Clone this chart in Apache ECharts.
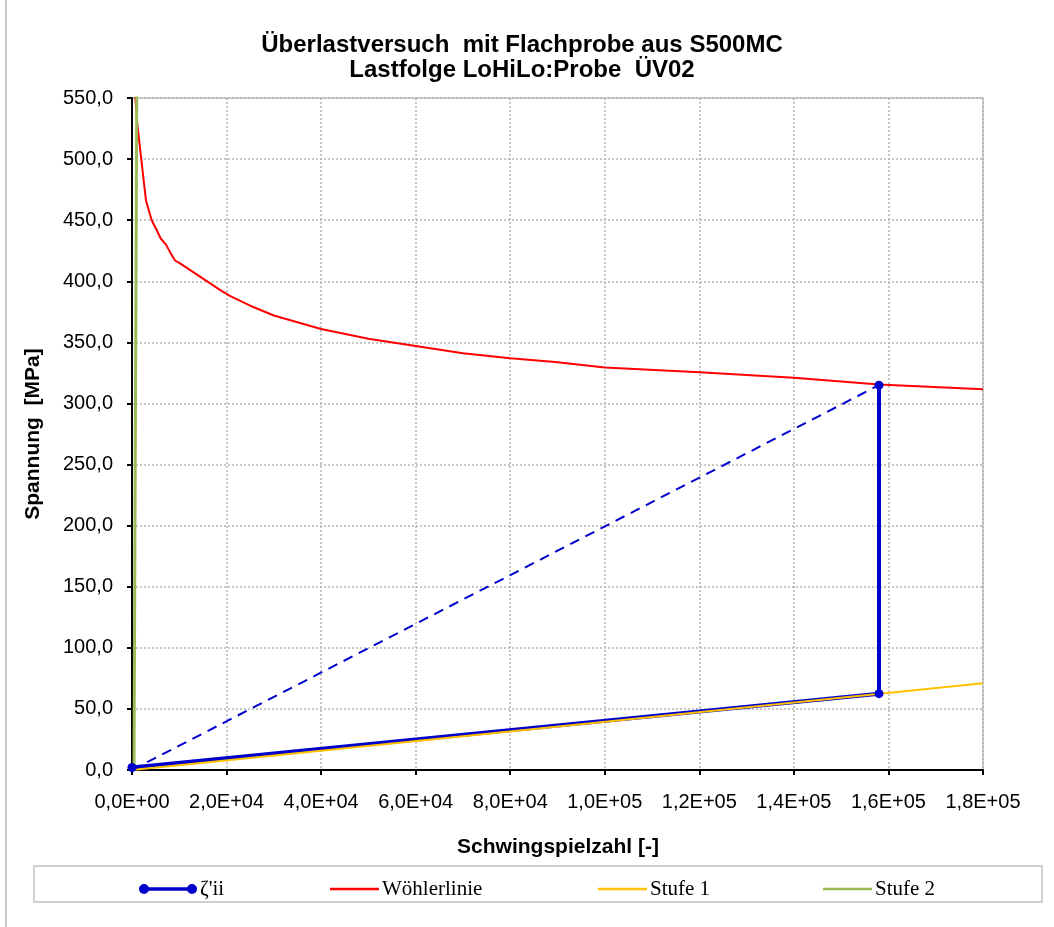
<!DOCTYPE html>
<html>
<head>
<meta charset="utf-8">
<script src="https://cdn.jsdelivr.net/npm/echarts@6/dist/echarts.min.js"></script>
<style>
  html, body { margin: 0; padding: 0; background: #fff; }
  #chart { width: 1054px; height: 927px; }
</style>
</head>
<body>
<div id="chart"></div>
<script>
// Texts
const titleLines = ['Überlastversuch  mit Flachprobe aus S500MC', 'Lastfolge LoHiLo:Probe  ÜV02'];
const xAxisTitle = 'Schwingspielzahl [-]';
const yAxisTitle = 'Spannung  [MPa]';
const seriesNames = ["ζ'ii", 'Wöhlerlinie', 'Stufe 1', 'Stufe 2'];

// Axis ranges: [min, max, interval]
const xRange = [0, 180000, 20000];
const yRange = [0, 550, 50];

// ζ'ii: damage path along Stufe 1, then jump up to the S-N curve at failure
const zetaPoints = [[0, 2], [158000, 62.5], [158000, 315]];
// straight reference from the origin to the failure point
const zetaRay = [[0, 0], [158000, 315]];
// Wöhler (S-N) curve: [cycles, stress]
const woehler = [
  [500, 580], [700, 551], [1120, 529], [1900, 502], [2960, 466], [4160, 450],
  [5220, 442], [6070, 435], [7190, 430], [8180, 423], [9100, 417], [10000, 415],
  [14300, 404], [18600, 393], [20700, 388], [25000, 380], [30000, 372],
  [40000, 361], [50000, 353], [60000, 347], [70000, 341], [80000, 337],
  [89500, 334], [100000, 329.5], [120000, 325.5], [140000, 321],
  [158000, 315.5], [180000, 311.6]
];
// load steps
const stufe1 = [[0, 0], [180000, 71]];
const stufe2 = [[420, 0], [1010, 560]];

const colors = { zeta: '#0000CC', woehler: '#FF0000', stufe1: '#FFC000', stufe2: '#9BBB59' };

function sciLabel(v) {
  if (v === 0) return '0,0E+00';
  const e = Math.floor(Math.log10(Math.abs(v)) + 1e-9);
  const m = v / Math.pow(10, e);
  return m.toFixed(1).replace('.', ',') + 'E+' + String(e).padStart(2, '0');
}

const sansFont = '"Liberation Sans", Arial, sans-serif';
const serifFont = '"Liberation Serif", "Times New Roman", serif';

const gridBox = { left: 132, top: 98, right: 1054 - 983, bottom: 927 - 770 };

const legendLeft = [139, 330, 598, 823];
const zetaIcon = 'path://M0,5A5,5 0 1,1 10,5A5,5 0 1,1 0,5Z M8,3.2H50V6.8H8Z M48,5A5,5 0 1,1 58,5A5,5 0 1,1 48,5Z';

const legends = seriesNames.map((name, i) => ({
  data: [{ name: name, icon: i === 0 ? zetaIcon : 'rect' }],
  left: legendLeft[i],
  top: 878,
  padding: 0,
  itemWidth: i === 0 ? 58 : 49,
  itemHeight: i === 0 ? 10 : 2.5,
  selectedMode: false,
  textStyle: { fontFamily: serifFont, fontSize: 21, color: '#000', lineHeight: 22, padding: [0, 0, 0, -2] }
}));

const chart = echarts.init(document.getElementById('chart'), null, { renderer: 'canvas' });

chart.setOption({
  animation: false,
  backgroundColor: '#fff',
  grid: Object.assign({ show: true, borderColor: '#c0c0c0', borderWidth: 1.5 }, gridBox),
  legend: legends,
  xAxis: {
    type: 'value',
    min: xRange[0], max: xRange[1], interval: xRange[2],
    axisLine: { show: true, onZero: false, lineStyle: { color: '#000', width: 2 } },
    axisTick: { show: true, inside: false, length: 5, lineStyle: { color: '#000', width: 2 } },
    axisLabel: { margin: 22, color: '#000', fontFamily: sansFont, fontSize: 20, formatter: sciLabel },
    splitLine: { show: true, lineStyle: { color: '#b4b4b4', width: 1.5, type: [2, 2] } }
  },
  yAxis: {
    type: 'value',
    min: yRange[0], max: yRange[1], interval: yRange[2],
    axisLine: { show: true, onZero: false, lineStyle: { color: '#000', width: 2 } },
    axisTick: { show: true, inside: false, length: 5, lineStyle: { color: '#000', width: 2 } },
    axisLabel: { margin: 19, color: '#000', fontFamily: sansFont, fontSize: 20,
      formatter: v => v.toFixed(1).replace('.', ',') },
    splitLine: { show: true, lineStyle: { color: '#b4b4b4', width: 1.5, type: [2, 2] } }
  },
  series: [
    {
      type: 'line', name: 'zetaRay', data: zetaRay, silent: true,
      symbol: 'none', color: colors.zeta,
      lineStyle: { color: colors.zeta, width: 2, type: [10, 7] }
    },
    {
      type: 'line', name: seriesNames[0], data: zetaPoints,
      symbol: 'none', color: colors.zeta,
      itemStyle: { color: colors.zeta },
      lineStyle: { color: colors.zeta, width: 4 }, z: 2
    },
    {
      type: 'line', name: seriesNames[1], data: woehler, symbol: 'none', color: colors.woehler,
      lineStyle: { color: colors.woehler, width: 2 }, z: 2
    },
    {
      type: 'line', name: seriesNames[2], data: stufe1, symbol: 'none', color: colors.stufe1,
      lineStyle: { color: colors.stufe1, width: 2 }, z: 2
    },
    {
      type: 'line', name: seriesNames[3], data: stufe2, symbol: 'none', color: colors.stufe2,
      lineStyle: { color: colors.stufe2, width: 3 }, z: 2
    },
    {
      // ζ'ii point markers, drawn above all lines
      type: 'scatter', name: 'zetaMarkers', data: zetaPoints, silent: true,
      symbol: 'circle', symbolSize: 9, itemStyle: { color: colors.zeta, opacity: 1 }, z: 4
    }
  ],
  graphic: [
    // chart frame (left edge)
    { type: 'line', shape: { x1: 6, y1: 0, x2: 6, y2: 927 }, style: { stroke: '#c8c8c8', lineWidth: 2 }, silent: true },
    // legend frame
    { type: 'rect', shape: { x: 34, y: 866, width: 1008, height: 36 },
      style: { fill: 'none', stroke: '#c0c0c0', lineWidth: 1.5 }, silent: true, z: -1 },
    { type: 'text', x: 522, y: 45, silent: true,
      style: { text: titleLines[0], fill: '#000', font: 'bold 24px ' + sansFont, align: 'center', verticalAlign: 'middle' } },
    { type: 'text', x: 522, y: 70, silent: true,
      style: { text: titleLines[1], fill: '#000', font: 'bold 24px ' + sansFont, align: 'center', verticalAlign: 'middle' } },
    { type: 'text', x: 558, y: 847, silent: true,
      style: { text: xAxisTitle, fill: '#000', font: 'bold 21px ' + sansFont, align: 'center', verticalAlign: 'middle' } },
    { type: 'text', x: 33, y: 434, rotation: Math.PI / 2, silent: true,
      style: { text: yAxisTitle, fill: '#000', font: 'bold 21px ' + sansFont, align: 'center', verticalAlign: 'middle' } }
  ]
});
</script>
</body>
</html>
